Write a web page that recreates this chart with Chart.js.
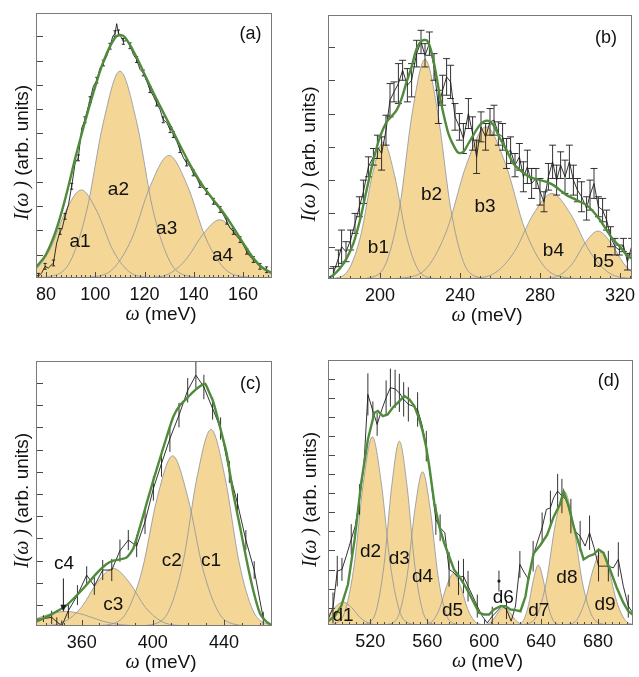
<!DOCTYPE html>
<html>
<head>
<meta charset="utf-8">
<script src="https://cdn.jsdelivr.net/npm/chart.js@4.4.1/dist/chart.umd.min.js"></script>
<style>
  html, body { margin: 0; padding: 0; background: #fff; }
  #wrap { position: relative; width: 639px; height: 677px; }
  canvas { position: absolute; }
</style>
</head>
<body>
<div id="wrap">
  <canvas id="pa" width="290" height="338" style="left:0;top:0"></canvas>
  <canvas id="pb" width="349" height="338" style="left:290px;top:0"></canvas>
  <canvas id="pc" width="290" height="339" style="left:0;top:338px"></canvas>
  <canvas id="pd" width="349" height="339" style="left:290px;top:338px"></canvas>
</div>
<script>
const TAN = '#f4d697', PEAK_LINE = '#8b939c', GREEN = '#4f8b3b', INK = '#1c1c1c';
const SANS = '"Liberation Sans", Arial, Helvetica, sans-serif';
const SERIF = '"Liberation Serif", "Times New Roman", serif';

// ---------- panel (a) ----------
const aX = [75.9, 76.9, 78.2, 79.6, 80.9, 83.0, 84.3, 85.7, 86.4, 87.7, 89.1, 90.4, 91.8, 93.1, 94.5, 95.8, 96.8, 97.9, 99.2, 100.6,
  101.9, 103.3, 104.6, 106.0, 107.1, 108.0, 108.7, 109.4, 110.3, 111.4, 112.8, 114.1, 115.5, 116.8, 118.2, 119.5, 120.9, 122.2, 123.6, 124.9,
  126.3, 127.6, 129.0, 130.4, 131.0, 131.7, 133.1, 134.4, 135.8, 137.1, 138.5, 139.8, 141.2, 142.5, 143.9, 145.2, 146.6, 148.0, 149.3, 150.7,
  152.0, 153.4, 154.7, 156.1, 157.4, 158.8, 160.1, 161.5, 162.8, 164.2, 165.5, 166.9, 168.3, 169.6, 171.0, 172.0];
const aY = [0.14, 0.07, 0.21, 0.48, 0.41, 0.62, 1.44, 1.92, 1.99, 2.54, 3.02, 3.78, 4.74, 4.95, 6.18, 6.52, 6.94, 7.35, 7.90, 8.15,
  8.65, 8.86, 9.13, 9.55, 9.96, 10.07, 10.48, 10.10, 9.96, 9.75, 9.79, 9.57, 9.20, 9.00, 8.59, 8.45, 8.10, 7.76, 7.49, 7.21,
  6.94, 6.52, 6.41, 6.11, 6.25, 5.91, 5.63, 5.29, 4.95, 4.74, 4.60, 4.33, 4.12, 3.85, 3.71, 3.57, 3.37, 3.16, 2.98, 2.82,
  2.61, 2.34, 2.06, 1.92, 1.72, 1.58, 1.37, 1.10, 0.89, 0.76, 0.62, 0.48, 0.41, 0.34, 0.21, 0.32];
const aErr = [0, 0.12, 0, 0.12, 0, 0.12, 0, 0.12, 0, 0.12, 0, 0.12, 0, 0.12, 0, 0.12, 0, 0.12, 0, 0.12,
  0, 0.12, 0, 0.12, 0, 0.12, 0, 0.12, 0, 0.12, 0, 0.12, 0, 0.12, 0, 0.12, 0, 0.12, 0, 0.12,
  0, 0.12, 0, 0.12, 0, 0.12, 0, 0.12, 0, 0.12, 0, 0.12, 0, 0.12, 0, 0.12, 0, 0.12, 0, 0.12,
  0, 0.12, 0, 0.12, 0, 0.12, 0, 0.12, 0, 0.12, 0, 0.12, 0, 0.12, 0, 0.12];
const aFitX = [76, 80, 84, 88, 92, 96, 100, 104, 108, 110, 112, 116, 120, 124, 128, 132, 136, 140, 144, 148, 152, 156, 160, 164, 168, 172];
const aFitY = [0.45, 0.98, 1.95, 3.35, 5.0, 6.5, 7.9, 9.1, 9.9, 10.02, 9.92, 9.25, 8.4, 7.55, 6.75, 5.95, 5.15, 4.4, 3.75, 3.22, 2.7, 2.1, 1.45, 0.85, 0.42, 0.2];
const a1 = [[60.3, 0.001], [68.8, 0.04], [75.2, 0.29], [81.6, 1.18], [87.9, 2.74], [94.3, 3.63], [100.7, 2.74], [107.0, 1.18], [113.4, 0.29], [119.8, 0.04], [128.3, 0.001]];
const a2 = [[74, 0.003], [83, 0.095], [89.8, 0.68], [96.5, 2.77], [103.3, 6.43], [110, 8.52], [116.8, 6.43], [123.5, 2.77], [130.3, 0.68], [137, 0.095], [146, 0.003]];
const a3 = [[89.9, 0.002], [99.9, 0.056], [107.4, 0.40], [114.9, 1.64], [122.4, 3.81], [129.9, 5.05], [137.4, 3.81], [144.9, 1.64], [152.4, 0.40], [159.9, 0.056], [169.9, 0.002]];
const a4 = [[114.5, 0.001], [123.5, 0.026], [130.3, 0.19], [137, 0.78], [143.8, 1.81], [150.5, 2.4], [157.3, 1.81], [164, 0.78], [170.8, 0.19], [177.5, 0.026], [186.5, 0.001]];
const aTicks = [80, 100, 120, 140, 160];
const aYTicks = [0.96, 1.96, 2.96, 3.96, 4.96, 5.96, 6.96, 7.96, 8.96, 9.96];
const aNotes = [['a1', 93.8, 1.48], ['a2', 109.4, 3.64], ['a3', 129.0, 2.03], ['a4', 151.7, 0.92]];
const aTag = ['(a)', 163.1, 10.07];

// ---------- panel (b) ----------
const bX = [176.7, 179.2, 180.8, 183.0, 185.3, 187.5, 189.7, 191.7, 194.2, 196.7, 198.7, 200.8, 203.0, 205.0, 207.0, 209.2, 211.3, 213.7, 215.8, 218.3,
  220.5, 222.5, 224.7, 227.0, 229.2, 231.3, 233.3, 235.3, 237.5, 239.7, 241.7, 244.2, 246.3, 248.3, 250.5, 252.8, 255.0, 257.0, 259.2, 261.3,
  263.3, 265.3, 267.5, 269.7, 271.7, 273.7, 275.8, 278.0, 280.0, 282.0, 284.2, 286.3, 288.3, 290.3, 292.5, 294.7, 296.7, 298.7, 300.8, 303.3,
  305.0, 307.0, 309.2, 311.3, 313.3, 315.3, 317.5, 319.7, 321.7, 323.7, 325.8];
const bY = [0.17, 0.62, 0.97, 0.82, 1.17, 1.67, 2.17, 2.62, 3.37, 3.67, 3.97, 3.77, 4.47, 5.37, 5.62, 5.87, 6.27, 5.82, 5.97, 6.77,
  7.12, 6.72, 7.07, 6.37, 5.17, 5.67, 6.07, 5.92, 4.87, 4.57, 4.22, 4.97, 4.37, 3.67, 4.57, 4.27, 4.72, 4.77, 4.37, 4.27,
  3.77, 3.87, 3.42, 3.67, 3.07, 3.37, 2.87, 3.02, 2.62, 2.32, 3.07, 3.52, 2.97, 3.42, 3.07, 3.52, 2.97, 2.67, 2.47, 2.12,
  2.52, 2.87, 2.17, 2.07, 1.77, 1.27, 0.97, 0.87, 1.02, 0.52, 0.97];
const bErr = [0.2, 0.25, 0.5, 0.3, 0.3, 0.3, 0.3, 0.35, 0.3, 0.25, 0.35, 0.5, 0.45, 0.5, 0.3, 0.6, 0.3, 0.5, 0.5, 0.4,
  0.35, 0.35, 0.35, 0.4, 0.5, 0.45, 0.55, 0.5, 0.4, 0.4, 0.45, 0.45, 0.5, 0.5, 0.45, 0.4, 0.4, 0.45, 0.35, 0.4,
  0.45, 0.4, 0.35, 0.4, 0.45, 0.5, 0.45, 0.3, 0.4, 0.3, 0.4, 0.5, 0.45, 0.4, 0.5, 0.5, 0.45, 0.35, 0.45, 0.35,
  0.45, 0.45, 0.3, 0.35, 0.3, 0.3, 0.25, 0.15, 0.2, 0.25, 0.25];
const bFitX = [174.0, 176.7, 180.0, 183.3, 186.7, 190.0, 193.3, 196.7, 200.0, 203.3, 205.8, 208.3, 210.8, 213.3, 215.8, 218.3, 220.8, 223.3, 225.0, 226.7,
  228.3, 230.0, 231.7, 234.2, 236.7, 239.2, 241.7, 244.2, 246.7, 249.2, 251.7, 254.2, 256.7, 260.0, 263.3, 266.7, 270.0, 273.3, 276.7, 280.0,
  283.3, 286.7, 290.0, 293.3, 296.7, 300.0, 303.3, 306.7, 310.0, 313.3, 316.7, 320.0, 323.3, 325.8];
const bFitY = [0.02, 0.12, 0.32, 0.62, 1.07, 1.77, 2.67, 3.57, 4.27, 4.72, 4.89, 5.07, 5.42, 5.92, 6.37, 6.92, 7.15, 7.17, 6.97, 6.57,
  6.07, 5.47, 4.97, 4.37, 4.02, 3.79, 3.82, 4.07, 4.32, 4.57, 4.72, 4.75, 4.62, 4.22, 3.87, 3.47, 3.27, 3.12, 3.02, 2.97,
  2.92, 2.82, 2.67, 2.52, 2.42, 2.32, 2.22, 2.02, 1.77, 1.47, 1.17, 0.97, 0.72, 0.62];
const b1 = [[171.7, 0.001], [179.2, 0.046], [184.8, 0.33], [190.5, 1.34], [196.1, 3.11], [201.7, 4.12], [207.3, 3.11], [213, 1.34], [218.6, 0.33], [224.2, 0.046], [231.7, 0.001]];
const b2 = [[188.5, 0.002], [197, 0.073], [203.4, 0.53], [209.8, 2.14], [216.1, 4.98], [222.5, 6.6], [228.9, 4.98], [235.3, 2.14], [241.6, 0.53], [248, 0.073], [256.5, 0.002]];
const b3 = [[201, 0.002], [214, 0.051], [223.8, 0.36], [233.5, 1.48], [243.3, 3.45], [253, 4.57], [262.8, 3.45], [272.5, 1.48], [282.3, 0.36], [292, 0.051], [305, 0.002]];
const b4 = [[236, 0.001], [248.5, 0.029], [257.9, 0.2], [267.3, 0.83], [276.6, 1.94], [286, 2.57], [295.4, 1.94], [304.8, 0.83], [314.1, 0.2], [323.5, 0.029], [336, 0.001]];
const b5 = [[275, 0], [283.5, 0.016], [289.9, 0.115], [296.3, 0.47], [302.6, 1.09], [309, 1.44], [315.4, 1.09], [321.8, 0.47], [328.1, 0.115], [334.5, 0.016], [343, 0]];
const bTicks = [200, 240, 280, 320];
const bYTicks = [0.32, 0.97, 1.97, 2.97, 3.97, 4.97, 5.97, 6.97];
const bNotes = [['b1', 199.2, 0.95], ['b2', 225.8, 2.54], ['b3', 252.5, 2.17], ['b4', 286.7, 0.85], ['b5', 311.7, 0.52]];
const bTag = ['(b)', 313, 7.25];

// ---------- panel (c) ----------
const cX = [334.3, 338.5, 343.1, 346.0, 348.8, 352.5, 357.6, 362.8, 367.1, 371.8, 376.9, 381.5, 386.2, 390.9, 395.6,
  400.3, 404.9, 409.6, 414.7, 419.6, 424.2, 428.7, 433.6, 438.1, 443.0, 447.6, 452.3, 457.0, 462.1, 466.7];
const cY = [0.30, 0.33, 0.39, 0.19, 0.0, 0.69, 1.39, 2.29, 1.80, 2.52, 2.52, 3.39, 3.87, 3.60, 4.69,
  6.19, 7.32, 8.44, 9.49, 10.61, 11.29, 10.76, 9.79, 8.89, 6.94, 5.52, 3.87, 2.52, 0.34, 0.0];
const cErr = [0.1, 0.15, 0.3, 0.2, 0.25, 0.35, 0.45, 0.4, 0.4, 0.45, 0.5, 0.5, 0.45, 0.5, 0.55,
  0.55, 0.6, 0.6, 0.55, 0.55, 0.6, 0.55, 0.5, 0.5, 0.5, 0.45, 0.45, 0.4, 0.3, 0.1];
const cFitX = [334.3, 342.2, 351.6, 360.9, 368.4, 374.0, 377.8, 381.5, 385.3, 389.0, 392.8, 396.5, 400.3, 404.0, 407.8, 411.5,
  415.2, 419.0, 422.7, 426.5, 429.3, 431.2, 434.0, 437.7, 441.5, 445.2, 449.0, 452.7, 456.4, 460.2, 463.9, 466.7];
const cFitY = [0.19, 0.49, 0.94, 1.69, 2.37, 2.79, 2.94, 3.00, 3.09, 3.49, 4.47, 5.52, 6.57, 7.54, 8.52, 9.42,
  9.94, 10.24, 10.54, 10.79, 10.91, 10.61, 10.09, 8.97, 7.77, 5.97, 4.47, 2.97, 1.62, 0.57, 0.19, 0.04];
const c1 = [[390.7, 0.003], [401.2, 0.098], [409.1, 0.70], [417, 2.87], [424.8, 6.68], [432.7, 8.85], [440.6, 6.68], [448.5, 2.87], [456.3, 0.70], [464.2, 0.098], [474.7, 0.003]];
const c2 = [[365.1, 0.003], [376.6, 0.085], [385.2, 0.61], [393.9, 2.49], [402.5, 5.78], [411.1, 7.66], [419.7, 5.78], [428.4, 2.49], [437, 0.61], [445.6, 0.085], [457.1, 0.003]];
const c3 = [[329.8, 0.001], [341.8, 0.029], [350.8, 0.21], [359.8, 0.84], [368.8, 1.96], [377.8, 2.59], [386.8, 1.96], [395.8, 0.84], [404.8, 0.21], [413.8, 0.029], [425.8, 0.001]];
const c4 = [[295, 0], [309, 0.007], [319.5, 0.053], [330, 0.21], [340.5, 0.5], [351, 0.66], [361.5, 0.5], [372, 0.21], [382.5, 0.053], [393, 0.007], [407, 0]];
const cTicks = [360, 400, 440];
const cYTicks = [0.94, 1.94, 2.94, 3.94, 4.94, 5.94, 6.94, 7.94, 8.94, 9.94, 10.94];
const cNotes = [['c1', 432.7, 2.94], ['c2', 410.6, 2.94], ['c3', 377.8, 0.94], ['c4', 350.1, 2.79]];
const cTag = ['(c)', 454.9, 10.91];
const cArrow = [349.7, 2.14, 0.64];

// ---------- panel (d) ----------
const dX = [490.4, 493.9, 496.9, 500.2, 503.2, 506.7, 509.5, 512.5, 515.6, 518.4, 521.9, 524.9, 528.2, 531.2, 534.2, 537.5, 540.5, 543.5, 546.8, 549.8,
  553.3, 556.3, 559.4, 562.6, 566.1, 569.1, 572.4, 575.4, 578.9, 582.0, 585.5, 588.7, 592.0, 595.2, 598.7, 602.2, 605.7, 612.7, 615.7, 619.0,
  622.0, 625.1, 628.3, 631.3, 634.4, 637.6, 640.7, 643.7, 646.5, 648.8, 651.6, 654.6, 657.7, 660.9, 664.0, 667.4, 670.9, 674.0, 677.2, 680.3,
  683.8, 687.2, 690.7, 694.2, 697.7, 701.2, 704.3];
const dY = [0.29, 0.90, 2.82, 2.91, 3.60, 4.48, 5.17, 6.57, 8.32, 12.07, 11.20, 10.50, 11.28, 11.90, 12.42, 12.36, 12.15, 11.81, 11.55, 11.46,
  11.28, 10.50, 9.36, 7.62, 5.52, 5.09, 4.83, 2.91, 2.73, 2.47, 2.56, 2.03, 1.51, 0.99, 0.46, 0.11, 0.46, 0.99, 0.81, 0.20,
  0.99, 3.17, 2.73, 2.38, 3.60, 4.39, 5.09, 6.05, 6.13, 6.66, 7.01, 6.75, 6.57, 5.70, 4.91, 4.65, 4.13, 4.83, 4.04, 3.08,
  3.08, 3.08, 2.99, 3.43, 2.03, 0.99, 0.64];
const dErr = [0.3, 0.8, 0.8, 0.6, 0, 0.8, 0, 0.8, 0, 1.1, 0.5, 0.6, 0, 0.9, 1.0, 1.0, 1.0, 0.9, 0.9, 0,
  0.9, 0, 0.8, 0, 0.8, 0.7, 0, 0.9, 0, 0.9, 0.9, 0.8, 0, 0.6, 0, 0, 0.5, 0, 0.5, 0,
  0, 0.7, 0, 0, 0.8, 0, 0.8, 0, 0.9, 0, 0.9, 0.9, 0, 0.9, 0, 0.8, 0, 0.9, 0, 0.8,
  0, 0.8, 0, 0.9, 0, 0.6, 0.3];
const dLoneX = [610.4];
const dLoneY = [2.30];
const dLoneErr = [0.55];
const dFitX = [490.4, 495.1, 499.7, 504.4, 509.1, 513.7, 518.4, 523.0, 525.4, 528.9, 532.3, 535.8, 540.5, 544.0, 547.5, 551.0, 554.5, 556.8, 559.2, 561.5,
  565.0, 568.5, 571.9, 575.4, 578.9, 582.4, 585.9, 589.4, 592.9, 596.4, 599.9, 603.4, 606.9, 611.5, 615.0, 618.5, 622.0, 625.5, 629.0, 631.3,
  634.8, 639.5, 644.2, 648.8, 653.5, 655.8, 659.3, 662.8, 666.3, 669.8, 673.3, 676.8, 680.3, 683.8, 688.4, 693.1, 697.7, 701.2, 704.3];
const dFitY = [0.20, 0.46, 0.99, 2.12, 4.48, 7.44, 9.71, 11.11, 11.20, 10.93, 11.02, 11.37, 11.72, 11.98, 11.81, 11.46, 10.76, 10.15, 9.36, 8.31,
  6.39, 5.17, 4.30, 3.60, 2.90, 2.55, 2.12, 1.68, 1.16, 0.64, 0.55, 0.55, 0.81, 0.99, 0.99, 0.81, 0.78, 0.72, 1.49, 2.53,
  3.75, 4.19, 4.71, 5.66, 6.36, 6.97, 6.22, 5.17, 4.30, 3.43, 3.60, 3.69, 3.95, 3.78, 2.90, 1.95, 1.17, 0.72, 0.55];
const d1 = [[469, 0], [477, 0.013], [483, 0.096], [489, 0.39], [495, 0.91], [501, 1.2], [507, 0.91], [513, 0.39], [519, 0.096], [525, 0.013], [533, 0]];
const d2 = [[487.9, 0.003], [496.3, 0.11], [502.6, 0.78], [508.9, 3.2], [515.2, 7.44], [521.5, 9.85], [527.8, 7.44], [534.1, 3.2], [540.4, 0.78], [546.7, 0.11], [555.1, 0.003]];
const d3 = [[511.7, 0.003], [518.9, 0.107], [524.3, 0.77], [529.7, 3.12], [535.1, 7.26], [540.5, 9.62], [545.9, 7.26], [551.3, 3.12], [556.7, 0.77], [562.1, 0.107], [569.3, 0.003]];
const d4 = [[528, 0.003], [535.2, 0.089], [540.6, 0.64], [546, 2.6], [551.4, 6.05], [556.8, 8.02], [562.2, 6.05], [567.6, 2.6], [573, 0.64], [578.4, 0.089], [585.6, 0.003]];
const d5 = [[552.5, 0.001], [559, 0.03], [563.9, 0.21], [568.8, 0.87], [573.6, 2.03], [578.5, 2.69], [583.4, 2.03], [588.3, 0.87], [593.1, 0.21], [598, 0.03], [604.5, 0.001]];
const d6 = [[594, 0], [599, 0.01], [602.8, 0.073], [606.5, 0.3], [610.3, 0.69], [614, 0.92], [617.8, 0.69], [621.5, 0.3], [625.3, 0.073], [629, 0.01], [634, 0]];
const d7 = [[619.6, 0.001], [624.2, 0.035], [627.7, 0.25], [631.1, 1.02], [634.6, 2.37], [638, 3.14], [641.5, 2.37], [644.9, 1.02], [648.4, 0.25], [651.8, 0.035], [656.4, 0.001]];
const d8 = [[622.7, 0.002], [631.1, 0.078], [637.4, 0.56], [643.7, 2.27], [650, 5.28], [656.3, 7], [662.6, 5.28], [668.9, 2.27], [675.2, 0.56], [681.5, 0.078], [689.9, 0.002]];
const d9 = [[652.3, 0.001], [659.7, 0.042], [665.3, 0.3], [670.8, 1.24], [676.4, 2.88], [681.9, 3.81], [687.5, 2.88], [693, 1.24], [698.6, 0.3], [704.1, 0.042], [711.5, 0.001]];
const dTicks = [520, 560, 600, 640, 680];
const dYTicks = [0.9, 1.9, 2.9, 3.9, 4.9, 5.9, 6.9, 7.9, 8.9, 9.9, 10.9, 11.9, 12.9];
const dNotes = [['d1', 500.9, 0.5], ['d2', 520.2, 3.83], ['d3', 540.5, 3.48], ['d4', 556.8, 2.5], ['d5', 577.8, 0.72],
  ['d6', 613.4, 1.42], ['d7', 638.3, 0.72], ['d8', 658.1, 2.47], ['d9', 684.9, 1.07]];
const dTag = ['(d)', 687.5, 12.75];

// ---------- helpers ----------
function pts(xs, ys) { return xs.map((v, i) => ({ x: v, y: ys[i] })); }

function peak(p) {
  return { data: p.map(q => ({ x: q[0], y: q[1] })), borderColor: PEAK_LINE, borderWidth: 0.8,
    backgroundColor: TAN, fill: 'origin', pointRadius: 0, cubicInterpolationMode: 'monotone', order: 3 };
}
function measured(xs, ys, err, cap) {
  return { data: pts(xs, ys), borderColor: INK, borderWidth: 0.9, pointRadius: 0, fill: false,
    tension: 0, err: err, cap: cap, order: 2 };
}
function fit(xs, ys, t) {
  return { data: pts(xs, ys), borderColor: GREEN, borderWidth: 2.4, pointRadius: 0, fill: false, tension: t, order: 1 };
}

// mixed italic-serif / sans text, centred on cx, baseline at cy
function mixed(ctx, parts, cx, cy) {
  let w = 0;
  parts.forEach(p => { ctx.font = p[1]; w += ctx.measureText(p[0]).width; });
  let xx = cx - w / 2;
  ctx.textAlign = 'left'; ctx.textBaseline = 'alphabetic';
  parts.forEach(p => { ctx.font = p[1]; ctx.fillText(p[0], xx, cy); xx += ctx.measureText(p[0]).width; });
}

const errBars = {
  id: 'errBars',
  afterDatasetDraw(chart, args) {
    const ds = chart.data.datasets[args.index];
    if (!ds.err) return;
    const { ctx, chartArea: ca } = chart;
    const x = chart.scales.x, y = chart.scales.y;
    ctx.save();
    ctx.beginPath(); ctx.rect(ca.left, ca.top, ca.right - ca.left, ca.bottom - ca.top); ctx.clip();
    ctx.strokeStyle = INK; ctx.lineWidth = 0.9;
    ctx.beginPath();
    ds.data.forEach((p, i) => {
      const e = ds.err[i];
      if (!e) return;
      const px = x.getPixelForValue(p.x);
      const y1 = y.getPixelForValue(p.y - e), y2 = y.getPixelForValue(p.y + e);
      ctx.moveTo(px, y1); ctx.lineTo(px, y2);
      if (ds.cap) {
        ctx.moveTo(px - ds.cap, y1); ctx.lineTo(px + ds.cap, y1);
        ctx.moveTo(px - ds.cap, y2); ctx.lineTo(px + ds.cap, y2);
      }
    });
    ctx.stroke();
    if (ds.showLine === false) {
      ds.data.forEach(p => { ctx.beginPath(); ctx.arc(x.getPixelForValue(p.x), y.getPixelForValue(p.y), 1.6, 0, 2 * Math.PI); ctx.fillStyle = INK; ctx.fill(); });
    }
    ctx.restore();
  }
};

function makeDeco(o) {
  return {
    id: 'deco',
    afterDatasetsDraw(chart) {
      const { ctx, chartArea: ca } = chart;
      const x = chart.scales.x, y = chart.scales.y;
      ctx.save();
      // inward tick marks
      ctx.strokeStyle = '#4a4a4a'; ctx.lineWidth = 1;
      ctx.beginPath();
      for (let v = Math.ceil(x.min / o.minor) * o.minor; v <= x.max; v += o.minor) {
        const px = Math.round(x.getPixelForValue(v)) + 0.5;
        const len = o.ticks.indexOf(v) >= 0 ? 6 : 3;
        ctx.moveTo(px, ca.bottom); ctx.lineTo(px, ca.bottom - len);
      }
      o.yTicks.forEach(v => {
        const py = Math.round(y.getPixelForValue(v)) + 0.5;
        ctx.moveTo(ca.left, py); ctx.lineTo(ca.left + 7, py);
      });
      ctx.stroke();
      // frame
      ctx.strokeStyle = '#7a7a7a';
      ctx.strokeRect(ca.left + 0.5, ca.top + 0.5, ca.right - ca.left - 1, ca.bottom - ca.top - 1);
      // tick labels
      ctx.fillStyle = '#111';
      ctx.font = '18px ' + SANS;
      ctx.textAlign = 'center'; ctx.textBaseline = 'middle';
      o.ticks.forEach(v => ctx.fillText(String(v), x.getPixelForValue(v), ca.bottom + 17));
      // peak names
      ctx.font = '19px ' + SANS;
      o.notes.forEach(n => ctx.fillText(n[0], x.getPixelForValue(n[1]), y.getPixelForValue(n[2])));
      // panel tag
      ctx.font = '18px ' + SANS;
      ctx.fillText(o.tag[0], x.getPixelForValue(o.tag[1]), y.getPixelForValue(o.tag[2]));
      // arrow
      if (o.arrow) {
        const ax = x.getPixelForValue(o.arrow[0]);
        const y1 = y.getPixelForValue(o.arrow[1]), y2 = y.getPixelForValue(o.arrow[2]);
        ctx.strokeStyle = INK; ctx.lineWidth = 1;
        ctx.beginPath(); ctx.moveTo(ax, y1); ctx.lineTo(ax, y2 - 6); ctx.stroke();
        ctx.beginPath(); ctx.moveTo(ax - 3, y2 - 7); ctx.lineTo(ax + 3, y2 - 7); ctx.lineTo(ax, y2); ctx.closePath();
        ctx.fillStyle = INK; ctx.fill();
      }
      // axis titles
      ctx.fillStyle = '#111';
      mixed(ctx, [['\u03c9', 'italic 20px ' + SERIF], [' (meV)', '19px ' + SANS]], (ca.left + ca.right) / 2 + 7, ca.bottom + 42);
      ctx.save();
      ctx.translate(ca.left - o.titleGap, (ca.top + ca.bottom) / 2 + 7);
      ctx.rotate(-Math.PI / 2);
      mixed(ctx, [['I(\u03c9 )', 'italic 20px ' + SERIF], [' (arb. units)', '19px ' + SANS]], 0, 0);
      ctx.restore();
      ctx.restore();
    }
  };
}

function panel(id, o) {
  new Chart(document.getElementById(id), {
    type: 'line',
    data: { datasets: o.sets },
    options: {
      responsive: false, animation: false, devicePixelRatio: 1,
      layout: { padding: o.pad },
      scales: {
        x: { type: 'linear', min: o.x[0], max: o.x[1], display: false },
        y: { type: 'linear', min: 0, max: o.ymax, display: false }
      },
      plugins: { legend: { display: false }, tooltip: { enabled: false }, filler: { drawTime: 'beforeDatasetsDraw' } }
    },
    plugins: [makeDeco(o), errBars]
  });
}

panel('pa', {
  pad: { left: 36, top: 13, right: 18, bottom: 60 }, x: [75.9, 171.8], ymax: 10.92, titleGap: 8,
  minor: 2, ticks: aTicks, yTicks: aYTicks, notes: aNotes, tag: aTag,
  sets: [fit(aFitX, aFitY, 0.4), measured(aX, aY, aErr, 1.6), peak(a1), peak(a2), peak(a3), peak(a4)]
});
panel('pb', {
  pad: { left: 38, top: 15, right: 7, bottom: 59 }, x: [174, 326], ymax: 7.93, titleGap: 13,
  minor: 5, ticks: bTicks, yTicks: bYTicks, notes: bNotes, tag: bTag,
  sets: [fit(bFitX, bFitY, 0.3), measured(bX, bY, bErr, 3.5), peak(b1), peak(b2), peak(b3), peak(b4), peak(b5)]
});
panel('pc', {
  pad: { left: 36, top: 23, right: 18, bottom: 51 }, x: [334.3, 467], ymax: 11.93, titleGap: 8,
  minor: 10, ticks: cTicks, yTicks: cYTicks, notes: cNotes, tag: cTag, arrow: cArrow,
  sets: [fit(cFitX, cFitY, 0.2), measured(cX, cY, cErr, 0), peak(c1), peak(c2), peak(c3), peak(c4)]
});
const lone = measured(dLoneX, dLoneY, dLoneErr, 0);
lone.showLine = false;
panel('pd', {
  pad: { left: 38, top: 22, right: 6, bottom: 52 }, x: [490.4, 704.5], ymax: 13.87, titleGap: 12,
  minor: 5, ticks: dTicks, yTicks: dYTicks, notes: dNotes, tag: dTag,
  sets: [fit(dFitX, dFitY, 0), measured(dX, dY, dErr, 0), lone,
    peak(d1), peak(d2), peak(d3), peak(d4), peak(d5), peak(d6), peak(d7), peak(d8), peak(d9)]
});
</script>
</body>
</html>
